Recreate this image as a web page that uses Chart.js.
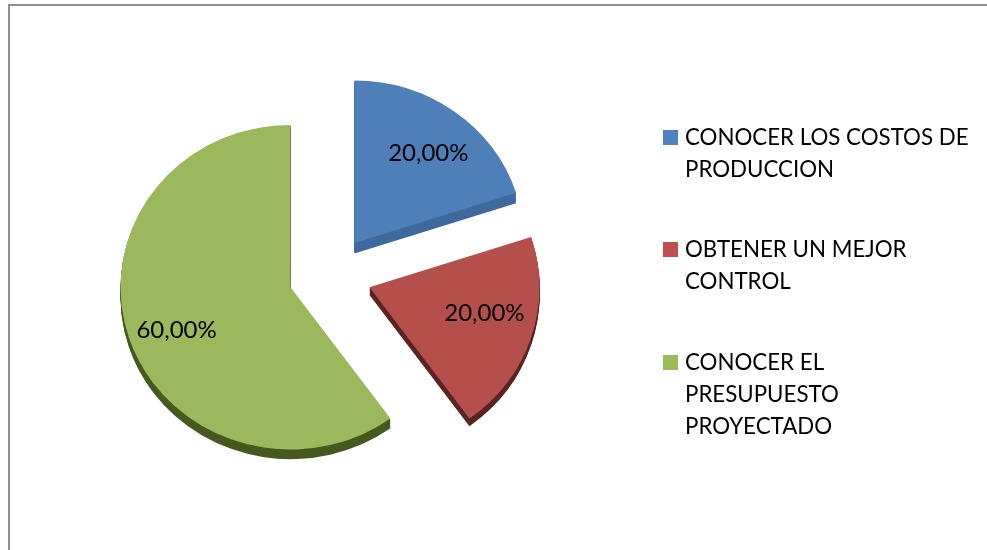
<!DOCTYPE html>
<html lang="es">
<head>
<meta charset="utf-8">
<title>Gráfico</title>
<script src="https://cdn.jsdelivr.net/npm/chart.js@4/dist/chart.umd.min.js"></script>
<style>
    html, body { margin: 0; background: #fff; overflow: hidden; }
    #wrap { position: relative; width: 987px; height: 550px; }
    #frame { position: absolute; left: 8px; top: 4px; right: 0; bottom: 0; border-left: 2px solid #8f8f8f; border-top: 2px solid #8f8f8f; }
    canvas { position: absolute; left: 0; top: 0; }
</style>
</head>
<body>
<div id="wrap">
    <div id="frame"></div>
    <canvas id="pieChart" width="987" height="550"></canvas>
</div>
<script>
const categories = ['CONOCER LOS COSTOS DE PRODUCCION', 'OBTENER UN MEJOR CONTROL', 'CONOCER EL PRESUPUESTO PROYECTADO'];
const values = [20, 20, 60];
const legendLines = [
    ['CONOCER LOS COSTOS DE', 'PRODUCCION'],
    ['OBTENER UN MEJOR', 'CONTROL'],
    ['CONOCER EL', 'PRESUPUESTO', 'PROYECTADO']
];

const sliceColors = ['#4f7fb8', '#b54f4c', '#9bb95c'];
const sideColors = ['#3f6a9e', '#592422', '#46591f'];
const legendColors = ['#4f81bd', '#c0504d', '#9bbb59'];
const sliceShift = 41.5;
const sideDepths = [11, 8, 10];
const labelNudges = [[6, 0], [5, -8], [-4, 9]];
const legendRows = [138, 250, 363];

const LEGEND_FONT = '22.3px Lato, "Open Sans", sans-serif';
const LABEL_FONT = '24px Lato, "Open Sans", sans-serif';
const SQUASH = 0.955;

function pieCenter(chart) {
    const area = chart.chartArea;
    return { x: (area.left + area.right) / 2, y: (area.top + area.bottom) / 2 };
}

// the built-in arc offset also grows the radius of big slices, so slices are pulled out here instead
const explodePlugin = {
    id: 'explode',
    afterDatasetsUpdate(chart) {
        chart.getDatasetMeta(0).data.forEach(function (arc) {
            const mid = (arc.startAngle + arc.endAngle) / 2;
            arc.x += Math.cos(mid) * sliceShift;
            arc.y += Math.sin(mid) * sliceShift;
        });
    }
};

// pie is tilted: flatten it around its center and extrude a darker edge below each slice
const tiltPlugin = {
    id: 'tilt',
    beforeDatasetsDraw(chart) {
        const ctx = chart.ctx;
        const c = pieCenter(chart);
        ctx.save();
        ctx.translate(c.x, c.y);
        ctx.scale(1, SQUASH);
        ctx.translate(-c.x, -c.y);
        chart.getDatasetMeta(0).data.forEach(function (arc, i) {
            const top = arc.options;
            const side = Object.create(top);
            side.backgroundColor = sideColors[i];
            arc.options = side;
            for (let d = sideDepths[i]; d > 0; d--) {
                ctx.save();
                ctx.translate(0, d);
                arc.draw(ctx);
                ctx.restore();
            }
            arc.options = top;
        });
    },
    afterDatasetsDraw(chart) {
        chart.ctx.restore();
    }
};

const labelPlugin = {
    id: 'sliceLabels',
    afterDraw(chart) {
        const ctx = chart.ctx;
        const c = pieCenter(chart);
        ctx.save();
        ctx.font = LABEL_FONT;
        ctx.fillStyle = '#000';
        ctx.textAlign = 'center';
        ctx.textBaseline = 'middle';
        chart.getDatasetMeta(0).data.forEach(function (arc, i) {
            const mid = (arc.startAngle + arc.endAngle) / 2;
            const r = arc.outerRadius * 0.68;
            const x = arc.x + Math.cos(mid) * r + labelNudges[i][0];
            const y = c.y + (arc.y - c.y + Math.sin(mid) * r) * SQUASH + labelNudges[i][1];
            ctx.fillText(values[i].toFixed(2).replace('.', ',') + '%', x, y);
        });
        ctx.restore();
    }
};

const legendPlugin = {
    id: 'sideLegend',
    afterDraw(chart) {
        const ctx = chart.ctx;
        ctx.save();
        ctx.font = LEGEND_FONT;
        ctx.textAlign = 'left';
        ctx.textBaseline = 'middle';
        legendLines.forEach(function (lines, i) {
            ctx.fillStyle = legendColors[i];
            ctx.fillRect(663, legendRows[i] - 8, 15, 15);
            ctx.fillStyle = '#000';
            lines.forEach(function (line, n) {
                ctx.fillText(line, 685, legendRows[i] + n * 32);
            });
        });
        ctx.restore();
    }
};

new Chart(document.getElementById('pieChart').getContext('2d'), {
    type: 'pie',
    data: {
        labels: categories,
        datasets: [{
            data: values,
            backgroundColor: sliceColors,
            borderWidth: 0
        }]
    },
    options: {
        responsive: false,
        animation: false,
        layout: { padding: { left: 160, right: 487, top: 105, bottom: 105 } },
        plugins: {
            legend: { display: false },
            tooltip: { enabled: false }
        }
    },
    plugins: [explodePlugin, tiltPlugin, labelPlugin, legendPlugin]
});
</script>
</body>
</html>
